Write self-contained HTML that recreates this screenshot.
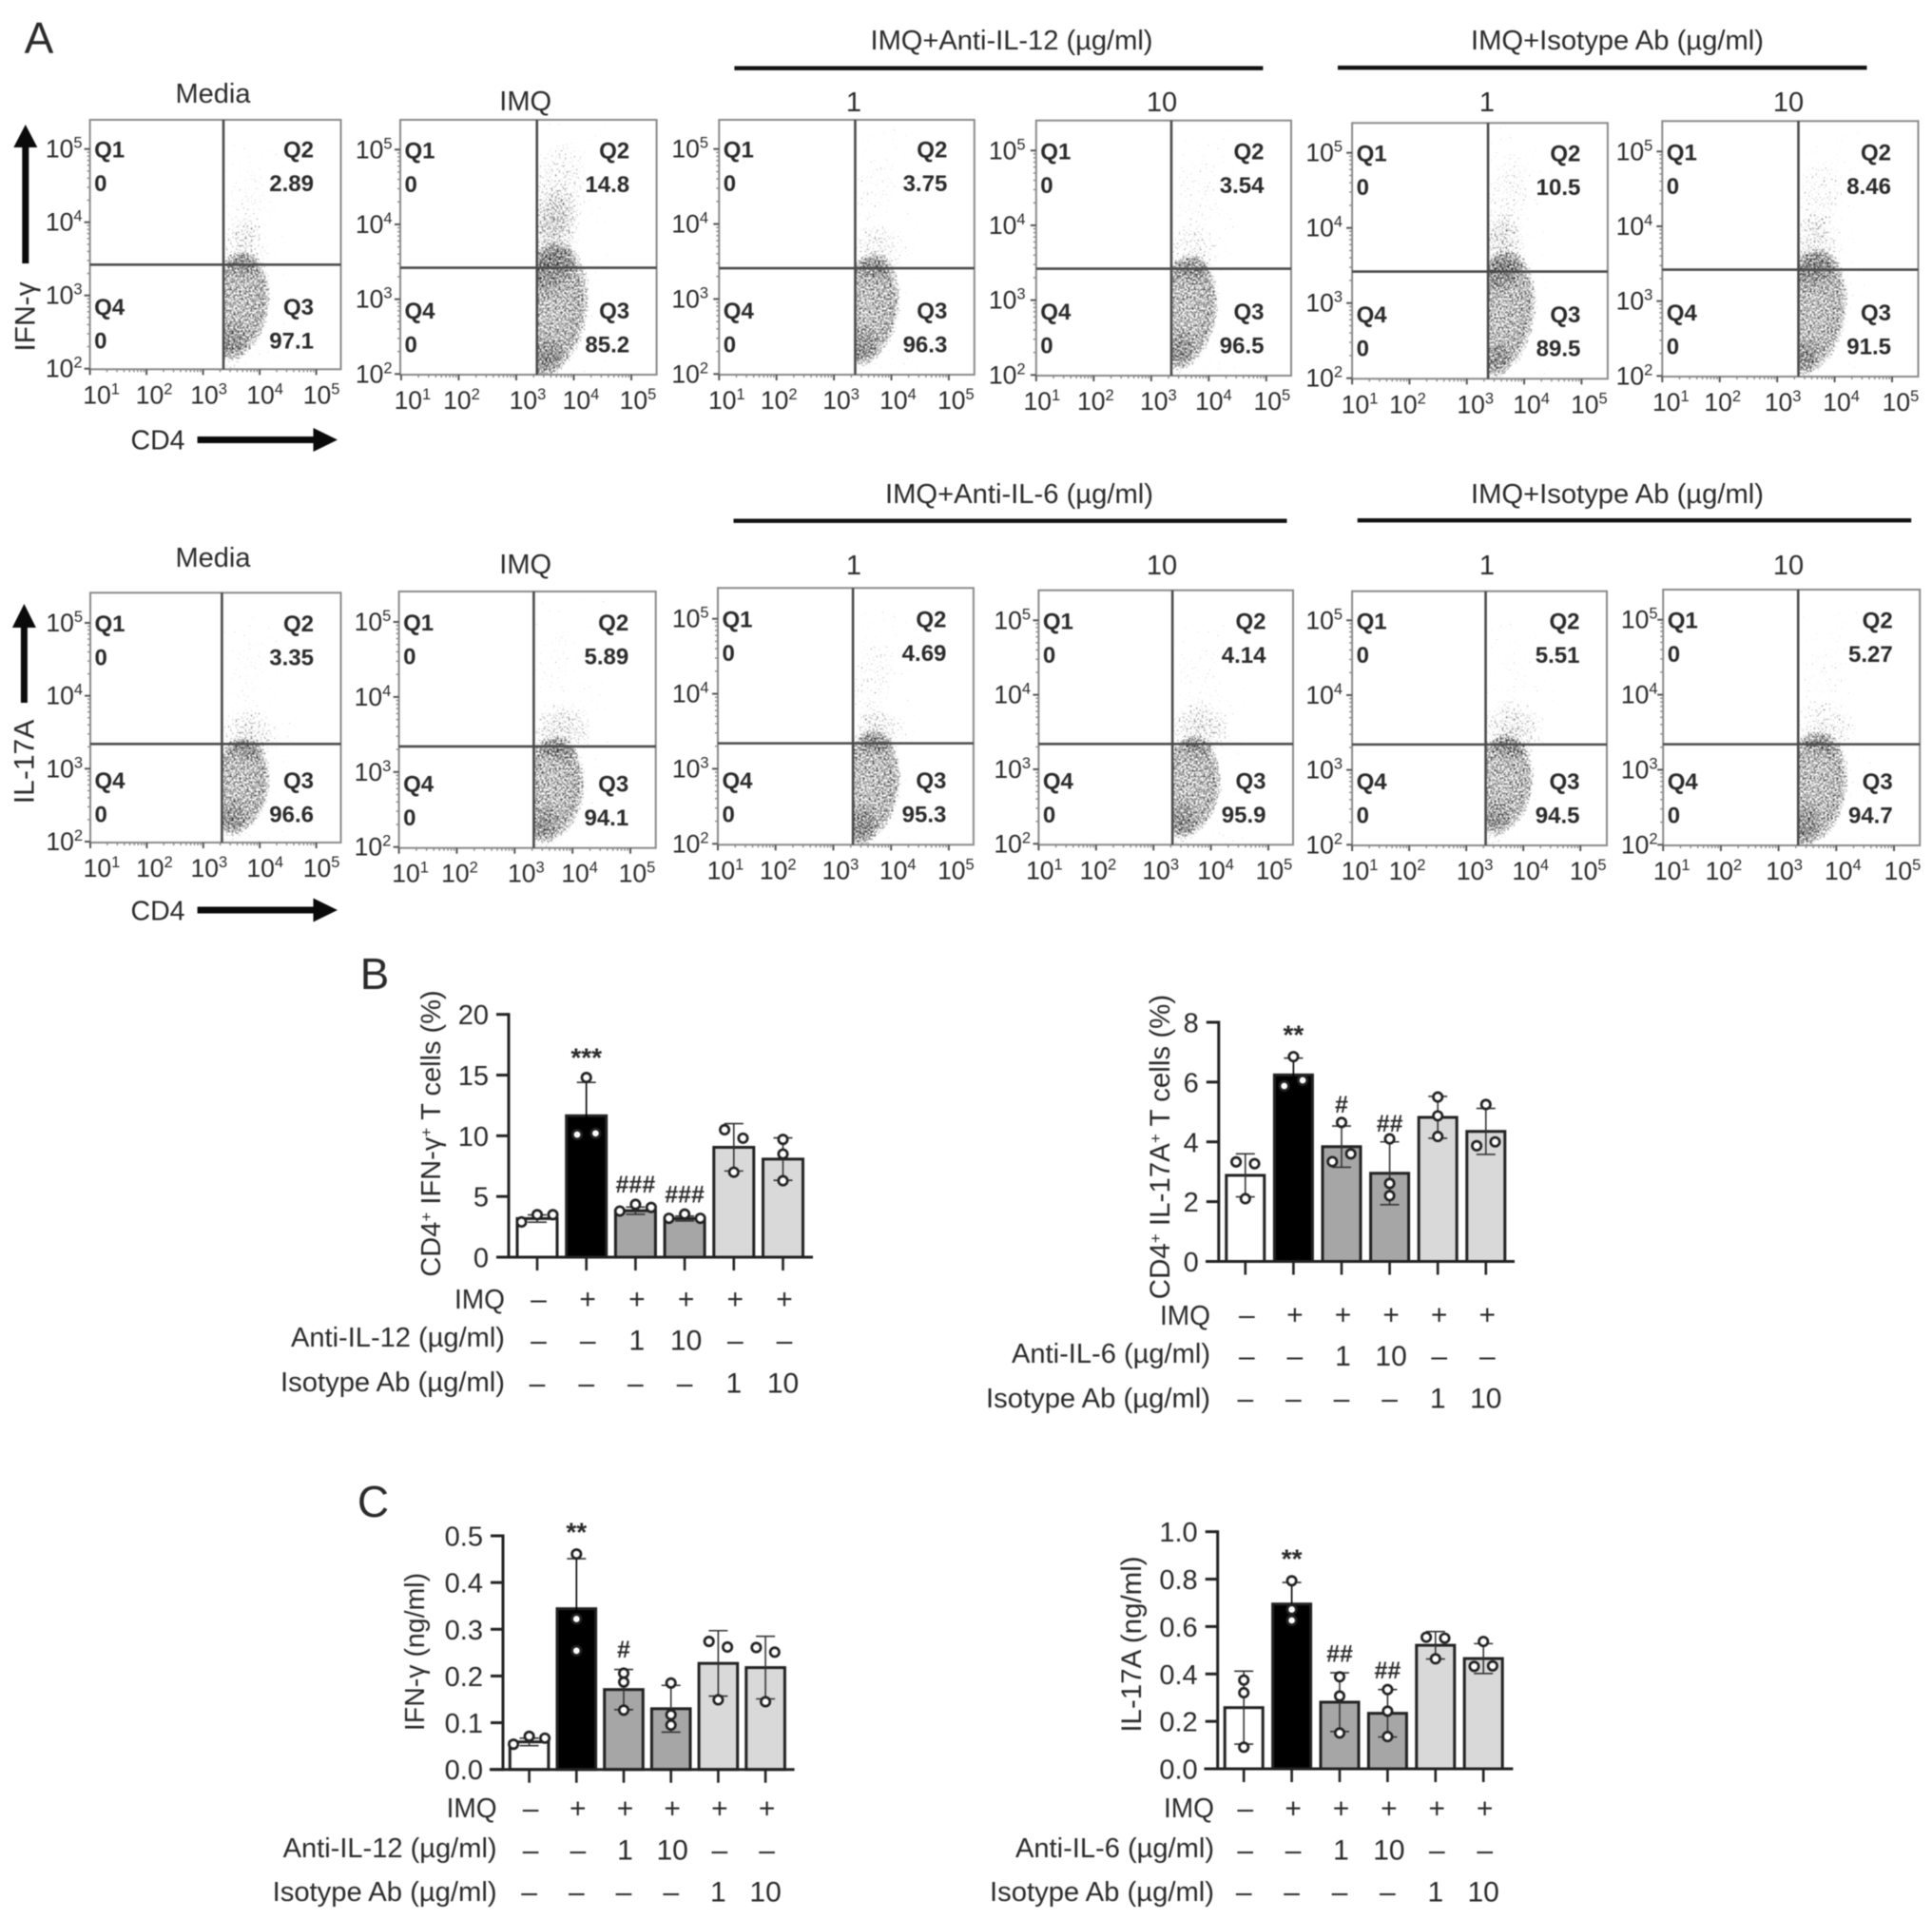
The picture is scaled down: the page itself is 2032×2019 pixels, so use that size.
<!DOCTYPE html>
<html lang="en">
<head>
<meta charset="utf-8">
<title>CD4 T cell flow cytometry and cytokine bar charts</title>
<style>
html,body{margin:0;padding:0;background:#fff;width:2032px;height:2019px;overflow:hidden}
svg{display:block;filter:blur(.6px)}
text{font-family:"Liberation Sans",sans-serif;fill:#2a2a2a}
</style>
</head>
<body>
<svg id="figure" xmlns="http://www.w3.org/2000/svg" width="2032" height="2019" viewBox="0 0 2032 2019">
<defs>
<radialGradient id="blob-core"><stop offset="0" stop-color="#000" stop-opacity=".45"/><stop offset=".5" stop-color="#000" stop-opacity=".47"/><stop offset=".76" stop-color="#000" stop-opacity=".5"/><stop offset=".9" stop-color="#000" stop-opacity=".36"/><stop offset="1" stop-color="#000" stop-opacity="0"/></radialGradient>
<radialGradient id="blob-soft"><stop offset="0" stop-color="#000" stop-opacity=".58"/><stop offset=".6" stop-color="#000" stop-opacity=".42"/><stop offset="1" stop-color="#000" stop-opacity="0"/></radialGradient>
<filter id="speckle" x="-5%" y="-5%" width="110%" height="110%" color-interpolation-filters="sRGB">
<feTurbulence type="fractalNoise" baseFrequency="0.5" numOctaves="1" seed="7" result="n"/>
<feColorMatrix in="n" type="matrix" values="0 0 0 0 0  0 0 0 0 0  0 0 0 0 0  1 0 0 0 0" result="na"/>
<feComposite in="SourceGraphic" in2="na" operator="arithmetic" k1="0" k2="1.5" k3="2.0" k4="-1.42"/>
</filter>
</defs>
<rect width="2032" height="2019" fill="#fff"/>

<g id="static-text" font-size="29">
<text x="41" y="56" font-size="46" text-anchor="middle">A</text>
<text x="394" y="1040" font-size="46" text-anchor="middle">B</text>
<text x="392.5" y="1595" font-size="46" text-anchor="middle">C</text>

<text x="224" y="108" text-anchor="middle">Media</text>
<text x="552.7" y="116" text-anchor="middle">IMQ</text>
<text x="1064" y="52" text-anchor="middle" textLength="297" lengthAdjust="spacingAndGlyphs">IMQ+Anti-IL-12 (µg/ml)</text>
<text x="1701" y="52" text-anchor="middle" textLength="308" lengthAdjust="spacingAndGlyphs">IMQ+Isotype Ab (µg/ml)</text>
<text x="898" y="117" text-anchor="middle">1</text>
<text x="1222" y="117" text-anchor="middle">10</text>
<text x="1564" y="117" text-anchor="middle">1</text>
<text x="1881" y="117" text-anchor="middle">10</text>
<rect x="772.4" y="69.5" width="556" height="4.4" fill="#111"/>
<rect x="1407" y="69" width="556.5" height="4.4" fill="#111"/>

<text x="224" y="596" text-anchor="middle">Media</text>
<text x="552.7" y="603" text-anchor="middle">IMQ</text>
<text x="1072" y="529" text-anchor="middle" textLength="282" lengthAdjust="spacingAndGlyphs">IMQ+Anti-IL-6 (µg/ml)</text>
<text x="1701" y="529" text-anchor="middle" textLength="308" lengthAdjust="spacingAndGlyphs">IMQ+Isotype Ab (µg/ml)</text>
<text x="898" y="604" text-anchor="middle">1</text>
<text x="1222" y="604" text-anchor="middle">10</text>
<text x="1564" y="604" text-anchor="middle">1</text>
<text x="1881" y="604" text-anchor="middle">10</text>
<rect x="771.5" y="545.5" width="582" height="4.4" fill="#111"/>
<rect x="1427.7" y="545" width="582.5" height="4.4" fill="#111"/>

<text transform="translate(36.5 333) rotate(-90)" text-anchor="middle" font-size="30">IFN-γ</text>
<polygon points="23.3,277 30.3,277 30.3,155 39.3,155 26.8,131 14.3,155 23.3,155" fill="#0a0a0a"/>
<text x="166" y="472.5" text-anchor="middle" font-size="28.5">CD4</text>
<polygon points="207.6,459 329.5,459 329.5,450 355,462.5 329.5,475 329.5,466 207.6,466" fill="#0a0a0a"/>

<text transform="translate(35.5 801) rotate(-90)" text-anchor="middle" font-size="30">IL-17A</text>
<polygon points="21.9,739 28.9,739 28.9,660 37.9,660 25.4,635 12.9,660 21.9,660" fill="#0a0a0a"/>
<text x="166" y="967.5" text-anchor="middle" font-size="28.5">CD4</text>
<polygon points="207.6,953.5 329.5,953.5 329.5,944.5 355,957 329.5,969.5 329.5,960.5 207.6,960.5" fill="#0a0a0a"/>

<text transform="translate(463 1192) rotate(-90)" text-anchor="middle" font-size="29">CD4<tspan dy="-9" font-size="17">+</tspan><tspan dy="9"> IFN-γ</tspan><tspan dy="-9" font-size="17">+</tspan><tspan dy="9"> T cells (%)</tspan></text>
<text transform="translate(1230 1206) rotate(-90)" text-anchor="middle" font-size="29.5">CD4<tspan dy="-9" font-size="17">+</tspan><tspan dy="9"> IL-17A</tspan><tspan dy="-9" font-size="17">+</tspan><tspan dy="9"> T cells (%)</tspan></text>
<text transform="translate(446 1737) rotate(-90)" text-anchor="middle" font-size="28.5">IFN-γ (ng/ml)</text>
<text transform="translate(1200 1729) rotate(-90)" text-anchor="middle" font-size="29.5">IL-17A (ng/ml)</text>

<text x="531" y="1376" text-anchor="end" textLength="53" lengthAdjust="spacingAndGlyphs">IMQ</text>
<text x="531" y="1416" text-anchor="end" textLength="225" lengthAdjust="spacingAndGlyphs">Anti-IL-12 (µg/ml)</text>
<text x="531" y="1463" text-anchor="end" textLength="236" lengthAdjust="spacingAndGlyphs">Isotype Ab (µg/ml)</text>

<text x="1273" y="1393" text-anchor="end" textLength="53" lengthAdjust="spacingAndGlyphs">IMQ</text>
<text x="1273" y="1433" text-anchor="end" textLength="209" lengthAdjust="spacingAndGlyphs">Anti-IL-6 (µg/ml)</text>
<text x="1273" y="1480" text-anchor="end" textLength="236" lengthAdjust="spacingAndGlyphs">Isotype Ab (µg/ml)</text>

<text x="522.6" y="1911" text-anchor="end" textLength="53" lengthAdjust="spacingAndGlyphs">IMQ</text>
<text x="522.6" y="1953" text-anchor="end" textLength="225" lengthAdjust="spacingAndGlyphs">Anti-IL-12 (µg/ml)</text>
<text x="522.6" y="1999" text-anchor="end" textLength="236" lengthAdjust="spacingAndGlyphs">Isotype Ab (µg/ml)</text>

<text x="1277" y="1911" text-anchor="end" textLength="53" lengthAdjust="spacingAndGlyphs">IMQ</text>
<text x="1277" y="1953" text-anchor="end" textLength="209" lengthAdjust="spacingAndGlyphs">Anti-IL-6 (µg/ml)</text>
<text x="1277" y="1999" text-anchor="end" textLength="236" lengthAdjust="spacingAndGlyphs">Isotype Ab (µg/ml)</text>
</g>
</svg>

<script>
// ---------- Flow cytometry data (log10 units and printed percentages) ----------
const q2Values = ['2.89','14.8','3.75','3.54','10.5','8.46','3.35','5.89','4.69','4.14','5.51','5.27'];
const q3Values = ['97.1','85.2','96.3','96.5','89.5','91.5','96.6','94.1','95.3','95.9','94.5','94.7'];
const q1Values = ['0','0','0','0','0','0','0','0','0','0','0','0'];
const q4Values = ['0','0','0','0','0','0','0','0','0','0','0','0'];
const gateXValues = [3.36,3.36,3.37,3.35,3.37,3.37,3.33,3.33,3.34,3.33,3.34,3.34];
const gateYValues = [3.42,3.42,3.41,3.42,3.42,3.42,3.34,3.34,3.34,3.34,3.34,3.34];
// Estimated density regions per plot: log10 CD4, log10 cytokine, half-extent x, half-extent y, density
const densityMedia1   = [[3.6,2.86,.6,.78,1],[3.5,2.3,.3,.42,.35],[3.72,3.65,.5,.45,.42],[3.8,4.2,.45,.65,.2]];
const densityImq1     = [[3.58,2.85,.7,.95,1],[3.62,3.75,.55,.8,.55],[3.72,4.45,.55,.8,.42],[3.55,2.2,.3,.35,.4]];
const densityAnti1a   = [[3.58,2.86,.58,.78,1],[3.5,2.3,.28,.4,.35],[3.75,3.62,.55,.42,.45],[3.7,4.4,.45,.65,.18]];
const densityAnti1b   = [[3.58,2.84,.6,.8,1],[3.5,2.25,.28,.4,.35],[3.72,3.62,.55,.44,.42],[3.8,4.4,.45,.65,.2]];
const densityIso1a    = [[3.58,2.85,.64,.88,1],[3.6,3.65,.5,.58,.55],[3.7,4.4,.45,.75,.32],[3.55,2.2,.24,.35,.35]];
const densityIso1b    = [[3.58,2.85,.66,.88,1],[3.65,3.65,.55,.55,.52],[3.75,4.4,.45,.65,.32],[3.5,2.2,.25,.35,.38]];
const densityMedia2   = [[3.62,2.76,.58,.7,1],[3.82,3.48,.6,.4,.5],[3.5,2.25,.28,.4,.35],[3.8,4.3,.35,.6,.12]];
const densityImq2     = [[3.6,2.76,.64,.74,1],[3.82,3.55,.6,.45,.55],[3.5,2.22,.28,.42,.35],[3.7,4.5,.38,.6,.12]];
const densityAnti2a   = [[3.58,2.75,.6,.8,1],[3.78,3.5,.52,.34,.5],[3.7,4.2,.42,.72,.27],[3.5,2.2,.26,.38,.42]];
const densityAnti2b   = [[3.6,2.76,.6,.72,1],[3.82,3.55,.6,.4,.55],[3.5,2.25,.28,.42,.35],[3.8,4.2,.45,.55,.14]];
const densityIso2a    = [[3.6,2.8,.6,.7,1],[3.82,3.55,.6,.44,.55],[3.5,2.25,.28,.42,.35],[3.8,4.3,.35,.55,.1]];
const densityIso2b    = [[3.58,2.75,.64,.8,1],[3.82,3.55,.6,.4,.45],[3.48,2.22,.24,.4,.4],[3.8,4.3,.45,.6,.14]];
const densityByPlot = [densityMedia1,densityImq1,densityAnti1a,densityAnti1b,densityIso1a,densityIso1b,densityMedia2,densityImq2,densityAnti2a,densityAnti2b,densityIso2a,densityIso2b];
const logTicksX = [1,2,3,4,5];
const logTicksY = [2,3,4,5];

// ---------- Bar chart data ----------
const imqRow  = ['–','+','+','+','+','+'];
const antiRow = ['–','–','1','10','–','–'];
const isoRow  = ['–','–','–','–','1','10'];

const b1Ticks = ['0','5','10','15','20'];
const b1TickValues = [0,5,10,15,20];
const b1Means = [3.18,11.65,3.83,3.18,9.05,8.08];
const b1Errors = [0.3,2.75,0.3,0.2,1.95,1.75];
const b1Points = [[2.9,3.5,3.5],[14.8,10.1,10.2],[3.8,4.35,4.1],[3.2,3.55,3.2],[10.5,9.8,7.0],[9.7,8.5,6.3]];
const b1Sig = ['','***','###','###','',''];
const b1SigLevels = [0,16.9,6.05,5.2,0,0];

const b2Ticks = ['0','2','4','6','8'];
const b2TickValues = [0,2,4,6,8];
const b2Means = [2.88,6.24,3.84,2.95,4.82,4.35];
const b2Errors = [0.72,0.56,0.69,1.05,0.7,0.77];
const b2Points = [[3.33,3.27,2.1],[6.85,5.87,6.06],[4.65,3.34,3.6],[4.1,2.61,2.2],[5.5,4.87,4.18],[5.25,3.87,4.0]];
const b2Sig = ['','**','#','##','',''];
const b2SigLevels = [0,7.78,5.27,4.63,0,0];

const c1Ticks = ['0.0','0.1','0.2','0.3','0.4','0.5'];
const c1TickValues = [0,0.1,0.2,0.3,0.4,0.5];
const c1Means = [0.059,0.344,0.171,0.13,0.227,0.218];
const c1Errors = [0.008,0.107,0.043,0.05,0.07,0.067];
const c1Points = [[0.054,0.071,0.067],[0.461,0.322,0.254],[0.206,0.187,0.127],[0.185,0.117,0.095],[0.274,0.262,0.149],[0.261,0.251,0.145]];
const c1Sig = ['','**','#','','',''];
const c1SigLevels = [0,0.52,0.258,0,0,0];

const c2Ticks = ['0.0','0.2','0.4','0.6','0.8','1.0'];
const c2TickValues = [0,0.2,0.4,0.6,0.8,1.0];
const c2Means = [0.258,0.695,0.281,0.234,0.521,0.465];
const c2Errors = [0.154,0.091,0.124,0.1,0.058,0.063];
const c2Points = [[0.374,0.321,0.091],[0.793,0.672,0.626],[0.388,0.307,0.151],[0.334,0.243,0.136],[0.555,0.551,0.464],[0.537,0.432,0.434]];
const c2Sig = ['','**','##','##','',''];
const c2SigLevels = [0,0.91,0.487,0.417,0,0];

// ---------- Layout ----------
const plotFrames = [
 {l:94.6,r:358.5,t:126,b:388.3,x1:94.6,x5:332.6,y5:156.7,y2:387.7,gapY:8,nudge:[12,8,6,5.5,5.5]},
 {l:421,r:690.6,t:126,b:394,x1:421.9,x5:664,y5:157.3,y2:393.3,gapY:8.5,nudge:[12,3,12,7.5,7]},
 {l:756.3,r:1024.8,t:126,b:394,x1:756.3,x5:997.9,y5:156.7,y2:393.3,gapY:11.3,nudge:[8,2.5,7.5,7,7.5]},
 {l:1089.8,r:1358,t:126.7,b:395,x1:1089.8,x5:1331.8,y5:158.3,y2:394.3,gapY:11.3,nudge:[6,2,7.5,5,6]},
 {l:1422.1,r:1690.9,t:129.3,b:398.3,x1:1422.1,x5:1663.4,y5:160.7,y2:397.7,gapY:10,nudge:[8,-2,9,7.5,8]},
 {l:1748.3,r:2017.5,t:127.3,b:396,x1:1748.3,x5:1990,y5:159.3,y2:395.3,gapY:10,nudge:[9,3,6,7,9]},
 {l:95,r:358.5,t:623.3,b:886,x1:95,x5:332.6,y5:655,y2:885,gapY:8,nudge:[12,8,6,5.5,5.5]},
 {l:419.6,r:689.7,t:622,b:891.7,x1:419.6,x5:663,y5:654,y2:890.7,gapY:8.3,nudge:[12,3,12,7.5,7]},
 {l:755,r:1023.9,t:618.3,b:888.3,x1:755,x5:997.9,y5:650.7,y2:887.3,gapY:9.5,nudge:[8,2.5,7.5,7,7.5]},
 {l:1092.4,r:1360,t:620.7,b:888.3,x1:1092.4,x5:1334,y5:652.3,y2:887.3,gapY:8.3,nudge:[6,2,7.5,5,6]},
 {l:1422.1,r:1690,t:621.7,b:889,x1:1422.1,x5:1662.2,y5:652.3,y2:888.3,gapY:10,nudge:[8,-2,9,7.5,8]},
 {l:1749.2,r:2019.2,t:620,b:889,x1:1749.2,x5:1992,y5:651.7,y2:888.3,gapY:5.7,nudge:[9,3,6,7,9]}
];
const NS = 'http://www.w3.org/2000/svg';
const figure = document.getElementById('figure');

function shape(parent, tagName, attrs){
  const el = document.createElementNS(NS, tagName);
  for (const k in attrs) el.setAttribute(k, attrs[k]);
  parent.appendChild(el);
  return el;
}
function line(parent, x1, y1, x2, y2, color, width, name){
  const el = shape(parent, 'line', {x1:x1, y1:y1, x2:x2, y2:y2, stroke:color, 'stroke-width':width});
  
  
  return el;
}
function label(parent, x, y, str, size, anchor, weight, name){
  const el = shape(parent, 'text', {x:x, y:y, 'font-size':size, 'text-anchor':anchor, 'font-weight':weight});
  el.textContent = str;
  
  
  return el;
}
function powerLabel(parent, x, y, exp, anchor, name){
  const el = shape(parent, 'text', {x:x, y:y, 'font-size':26.5, 'text-anchor':anchor});
  
  
  const base = shape(el, 'tspan', {});
  base.textContent = '10';
  const sup = shape(el, 'tspan', {dy:-10, 'font-size':16.5});
  sup.textContent = String(exp);
  return el;
}

function drawPlot(i){
  const f = plotFrames[i];
  const dx = (f.x5 - f.x1) / 4;
  const dy = (f.y2 - f.y5) / 3;
  const xAt = v => f.x1 + (v - 1) * dx;
  const yAt = v => f.y2 - (v - 2) * dy;
  const g = shape(figure, 'g', {});
  
  

  const gx = xAt(gateXValues[i]);
  const gy = yAt(gateYValues[i]);

  const clip = shape(g, 'clipPath', {id:'gate-clip-' + i});
  shape(clip, 'rect', {x:gx, y:f.t, width:f.r - gx, height:f.b - f.t});
  const clipped = shape(g, 'g', {'clip-path':'url(#gate-clip-' + i + ')'});
  const cloud = shape(clipped, 'g', {filter:'url(#speckle)', opacity:.9});
  
  
  densityByPlot[i].forEach((d, j) => {
    const cx = xAt(d[0]);
    const cy = yAt(d[1]);
    const e = shape(cloud, 'ellipse', {cx:cx, cy:cy, rx:d[2]*dx, ry:d[3]*dy, fill:j === 0 ? 'url(#blob-core)' : 'url(#blob-soft)', opacity:d[4], transform:'rotate(10 ' + cx + ' ' + cy + ')'});
    
    
  });

  const frame = shape(g, 'rect', {x:f.l, y:f.t, width:f.r - f.l, height:f.b - f.t, fill:'none', stroke:'#8a8a8a', 'stroke-width':2});
  
  

  line(g, gx, f.t, gx, f.b, '#4a4a4a', 2.6, 'gate-vertical');
  line(g, f.l, gy, f.r, gy, '#4a4a4a', 2.6, 'gate-horizontal');

  // x axis ticks
  logTicksX.forEach(v => {
    line(g, xAt(v), f.b, xAt(v), f.b + 6, '#555', 2, 'x-tick');
    powerLabel(g, xAt(v) + f.nudge[v - 1], f.b + 36, v, 'middle', 'x-tick-label');
    if (v < 5) for (let m = 2; m < 10; m++) {
      line(g, xAt(v + Math.log10(m)), f.b, xAt(v + Math.log10(m)), f.b + 3, '#888', 1.4, 'x-minor-tick');
    }
  });
  // y axis ticks
  logTicksY.forEach(v => {
    line(g, f.l - 6, yAt(v), f.l, yAt(v), '#555', 2, 'y-tick');
    powerLabel(g, f.l - f.gapY, yAt(v) + 9, v, 'end', 'y-tick-label');
    if (v < 5) for (let m = 2; m < 10; m++) {
      line(g, f.l - 3, yAt(v + Math.log10(m)), f.l, yAt(v + Math.log10(m)), '#888', 1.4, 'y-minor-tick');
    }
  });

  // quadrant labels
  const topY = yAt(5);
  const lowY = yAt(3);
  label(g, f.l + 4.5, topY + 9, 'Q1', 24, 'start', 'bold', 'quadrant-q1-label');
  label(g, f.l + 4.5, topY + 44.5, q1Values[i], 24, 'start', 'bold', 'quadrant-q1-value');
  label(g, f.r - 28.5, topY + 9, 'Q2', 24, 'end', 'bold', 'quadrant-q2-label');
  label(g, f.r - 28.5, topY + 44.5, q2Values[i], 24, 'end', 'bold', 'quadrant-q2-value');
  label(g, f.l + 4.5, lowY + 20.5, 'Q4', 24, 'start', 'bold', 'quadrant-q4-label');
  label(g, f.l + 4.5, lowY + 56, q4Values[i], 24, 'start', 'bold', 'quadrant-q4-value');
  label(g, f.r - 28.5, lowY + 20.5, 'Q3', 24, 'end', 'bold', 'quadrant-q3-label');
  label(g, f.r - 28.5, lowY + 56, q3Values[i], 24, 'end', 'bold', 'quadrant-q3-value');
}
plotFrames.forEach((f, i) => drawPlot(i));

// ---------- Bar charts ----------
const barFills = ['#ffffff','#000000','#a6a6a6','#a6a6a6','#d9d9d9','#d9d9d9'];

function swarmOffsets(values, yAt){
  const order = values.map((v, i) => i).sort((a, b) => values[b] - values[a]);
  const clusters = [];
  order.forEach(i => {
    const last = clusters[clusters.length - 1];
    if (last && Math.abs(yAt(values[last[last.length - 1]]) - yAt(values[i])) < 9.2) last.push(i);
    else clusters.push([i]);
  });
  const out = values.map(() => 0);
  clusters.forEach(c => {
    c.sort((a, b) => a - b);
    if (c.length === 2) { out[c[0]] = -9.7; out[c[1]] = 9.7; }
    if (c.length === 3) { out[c[0]] = -16.5; out[c[2]] = 16.5; }
  });
  return out;
}

function drawBarChart(c){
  const max = c.tickValues[c.tickValues.length - 1];
  const yAt = v => c.y0 - (v / max) * (c.y0 - c.yMax);
  const xAt = i => c.x0 + i * c.step;
  const g = shape(figure, 'g', {});
  
  

  c.means.forEach((m, i) => {
    const bar = shape(g, 'rect', {x:xAt(i) - c.barW/2, y:yAt(m), width:c.barW, height:c.y0 - yAt(m), fill:barFills[i], stroke:'#222', 'stroke-width':3});
    
    
  });
  c.means.forEach((m, i) => {
    const hi = yAt(m + c.errors[i]);
    const lo = yAt(m - c.errors[i]);
    const stem = barFills[i] === '#000000' ? '#000' : '#333';
    line(g, xAt(i), hi, xAt(i), lo, stem, 1.6, 'error-bar');
    line(g, xAt(i) - 10, hi, xAt(i) + 10, hi, '#333', 1.6, 'error-cap-upper');
    line(g, xAt(i) - 10, lo, xAt(i) + 10, lo, stem, 1.6, 'error-cap-lower');
  });
  c.points.forEach((vals, i) => {
    const off = swarmOffsets(vals, yAt);
    vals.forEach((v, j) => {
      const pt = shape(g, 'circle', {cx:xAt(i) + off[j], cy:yAt(v), r:4.7, fill:'#fff', stroke:'#222', 'stroke-width':2.7});
      
      
    });
  });
  // axes
  line(g, c.axisX, c.yMax - 1.5, c.axisX, c.y0 + 1.5, '#222', 3, 'y-axis');
  line(g, c.baseL, c.y0, c.baseR, c.y0, '#222', 3, 'x-axis');
  c.tickValues.forEach((v, i) => {
    line(g, c.axisX - 13, yAt(v), c.axisX, yAt(v), '#222', 3, 'y-tick');
    label(g, c.axisX - 21, yAt(v) + 10.5, c.ticks[i], 29, 'end', 'normal', 'y-tick-label');
  });
  c.means.forEach((m, i) => {
    line(g, xAt(i), c.y0, xAt(i), c.y0 + 14, '#222', 2.6, 'x-tick');
  });
  // significance markers
  c.sig.forEach((s, i) => {
    if (!s) return;
    const star = s[0] === '*';
    const size = star ? 28 : 25;
    label(g, xAt(i), yAt(c.sigLevels[i]) + (star ? size * .55 : size * .36), s, size, 'middle', 'bold', 'significance-marker');
  });
  // treatment rows
  imqRow.forEach((s, i) => label(g, xAt(i) + 1.5, c.rows[0] + 10, s, 30, 'middle', 'normal', 'imq-row-symbol'));
  antiRow.forEach((s, i) => label(g, xAt(i) + 1.5, c.rows[1] + 10, s, 30, 'middle', 'normal', 'antibody-row-symbol'));
  isoRow.forEach((s, i) => label(g, xAt(i) + 0, c.rows[2] + 10, s, 30, 'middle', 'normal', 'isotype-row-symbol'));
}

drawBarChart({name:'chart-b-ifn-percent', ticks:b1Ticks, tickValues:b1TickValues, means:b1Means, errors:b1Errors, points:b1Points, sig:b1Sig, sigLevels:b1SigLevels,
  x0:565, step:51.7, barW:42, axisX:535, y0:1322, yMax:1066.7, baseL:522, baseR:855, rows:[1366,1409.5,1454.5]});
drawBarChart({name:'chart-b-il17a-percent', ticks:b2Ticks, tickValues:b2TickValues, means:b2Means, errors:b2Errors, points:b2Points, sig:b2Sig, sigLevels:b2SigLevels,
  x0:1309.8, step:50.6, barW:40, axisX:1281.8, y0:1326.5, yMax:1075, baseL:1268, baseR:1593, rows:[1382.5,1426,1470.5]});
drawBarChart({name:'chart-c-ifn-ng', ticks:c1Ticks, tickValues:c1TickValues, means:c1Means, errors:c1Errors, points:c1Points, sig:c1Sig, sigLevels:c1SigLevels,
  x0:556.6, step:49.7, barW:40.6, axisX:529, y0:1860.7, yMax:1615, baseL:515, baseR:835.6, rows:[1901.5,1945.5,1989.5]});
drawBarChart({name:'chart-c-il17a-ng', ticks:c2Ticks, tickValues:c2TickValues, means:c2Means, errors:c2Errors, points:c2Points, sig:c2Sig, sigLevels:c2SigLevels,
  x0:1308.2, step:50.4, barW:40, axisX:1280.7, y0:1860, yMax:1610.7, baseL:1266.5, baseR:1591.4, rows:[1901.5,1945.5,1989.5]});
</script>
</body>
</html>
